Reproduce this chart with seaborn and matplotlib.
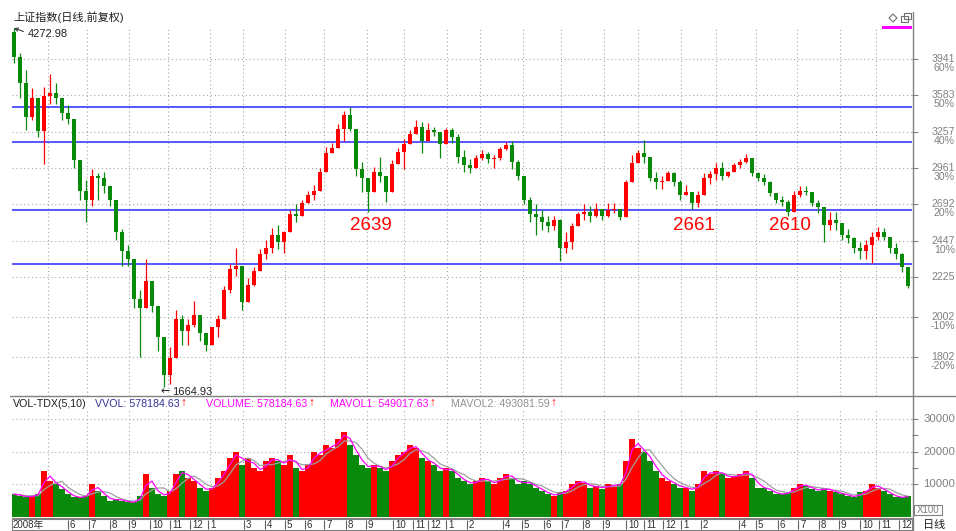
import numpy as np
import pandas as pd
import matplotlib
matplotlib.use("Agg")
import matplotlib.pyplot as plt
import seaborn as sns
from matplotlib.patches import Rectangle, Polygon
from matplotlib.lines import Line2D
from matplotlib.ticker import NullLocator

sns.set_theme(style="white")
plt.rcParams['font.family'] = ['Liberation Sans', 'Noto Sans CJK SC', 'DejaVu Sans']

# ---------------- data (approx. weekly bars) ----------------
first_open = 4230
close = [
    3960, 3700, 3380, 3560, 3260, 3580, 3600, 3560, 3420, 3370,
    3020, 2790, 2720, 2900, 2880, 2820, 2720, 2500, 2380, 2330,
    2100, 2050, 2200, 2060, 1900, 1720, 1800, 1990, 1930, 1960,
    2010, 1920, 1860, 1950, 1990, 2150, 2270, 2290, 2080, 2180,
    2260, 2360, 2400, 2480, 2440, 2500, 2620, 2610, 2700, 2760,
    2790, 2930, 3080, 3120, 3280, 3400, 3280, 2950, 2880, 2780,
    2930, 2900, 2780, 2990, 3090, 3150, 3240, 3300, 3180, 3270,
    3250, 3150, 3270, 3210, 3050, 2980, 2960, 3040, 3070, 3030,
    3040, 3110, 3140, 3010, 2900, 2720, 2620, 2600, 2570, 2540,
    2580, 2400, 2440, 2540, 2620, 2640, 2610, 2660, 2610, 2650,
    2660, 2600, 2850, 3000, 3080, 3050, 2880, 2850, 2860, 2920,
    2850, 2760, 2780, 2700, 2760, 2880, 2910, 2960, 2900, 2930,
    2980, 3010, 3040, 2920, 2880, 2850, 2770, 2720, 2710, 2640,
    2760, 2790, 2780, 2700, 2670, 2550, 2580, 2560, 2480, 2460,
    2400, 2380, 2420, 2470, 2500, 2470, 2400, 2360, 2280, 2170,
]
high = [
    4272.98, 4000, 3830, 3650, 3500, 3660, 3790, 3700, 3560, 3490,
    3230, 2960, 2870, 2950, 2920, 2930, 2820, 2720, 2520, 2420,
    2290, 2150, 2330, 2170, 2060, 1850, 1850, 2040, 2010, 1990,
    2090, 2010, 1900, 1950, 2010, 2170, 2300, 2400, 2250, 2220,
    2280, 2390, 2450, 2530, 2550, 2510, 2650, 2690, 2720, 2790,
    2830, 2960, 3130, 3160, 3320, 3440, 3478, 3260, 3010, 2880,
    2970, 3050, 2890, 3020, 3120, 3190, 3270, 3361, 3340, 3330,
    3300, 3220, 3290, 3290, 3240, 3100, 3030, 3060, 3100, 3090,
    3060, 3130, 3170, 3181, 3020, 2870, 2740, 2690, 2650, 2610,
    2610, 2590, 2500, 2560, 2640, 2690, 2680, 2700, 2650, 2700,
    2700, 2650, 2870, 3060, 3100, 3186, 3030, 2930, 2900, 2940,
    2930, 2870, 2830, 2780, 2790, 2920, 2940, 3000, 3010, 2940,
    3000, 3030, 3067, 3030, 2930, 2910, 2860, 2760, 2750, 2720,
    2790, 2826, 2826, 2780, 2720, 2650, 2640, 2640, 2560, 2520,
    2470, 2440, 2450, 2500, 2536, 2530, 2450, 2430, 2370, 2230,
]
low = [
    3900, 3560, 3270, 3360, 3210, 2990, 3500, 3500, 3360, 3320,
    2960, 2720, 2566, 2680, 2720, 2770, 2680, 2450, 2290, 2290,
    2050, 1802, 2170, 2030, 1830, 1664.93, 1680, 1830, 1860, 1860,
    1950, 1880, 1830, 1860, 1900, 1990, 2130, 2230, 2040, 2110,
    2170, 2265, 2330, 2370, 2390, 2370, 2530, 2570, 2630, 2710,
    2720, 2820, 2940, 3080, 3160, 3180, 3260, 2900, 2780, 2639,
    2820, 2850, 2710, 2860, 3000, 2950, 3170, 3250, 3080, 3190,
    3220, 3040, 3160, 3160, 3000, 2930, 2920, 2960, 3020, 3000,
    2960, 3020, 3100, 2950, 2870, 2690, 2570, 2480, 2515, 2500,
    2515, 2319, 2370, 2390, 2560, 2580, 2570, 2600, 2580, 2600,
    2630, 2580, 2600, 2940, 3000, 3000, 2860, 2800, 2800, 2860,
    2820, 2720, 2770, 2661, 2670, 2800, 2840, 2870, 2870, 2890,
    2930, 2960, 3000, 2900, 2860, 2830, 2750, 2700, 2680, 2610,
    2670, 2740, 2760, 2680, 2630, 2440, 2515, 2515, 2450, 2430,
    2370, 2330, 2330, 2307, 2450, 2450, 2370, 2330, 2250, 2160,
]
volume = [
    7000, 6500, 6000, 6500, 7000, 14000, 11000, 10000, 8500, 7000,
    6000, 6000, 6500, 10000, 8000, 6500, 5000, 5500, 5000, 4500,
    4500, 6500, 13000, 9000, 7000, 6500, 8000, 13000, 14000, 12000,
    11000, 9000, 8000, 9000, 12000, 14000, 18000, 20000, 16000, 18000,
    15000, 14000, 17000, 18000, 17000, 16000, 19000, 15000, 14000, 16000,
    20000, 19000, 22000, 21000, 24000, 26000, 22000, 19000, 16000, 15000,
    16000, 15000, 14000, 17000, 19000, 20000, 22000, 21000, 18000, 17000,
    16000, 14000, 15000, 14000, 12000, 11000, 10000, 11000, 12000, 11000,
    10000, 12000, 13000, 12000, 10000, 11000, 10000, 9000, 8000, 7000,
    6500, 7500, 8000, 10000, 11000, 10500, 9000, 9500, 8500, 10000,
    9500, 10000, 17000, 24000, 21000, 20000, 17000, 14000, 12000, 11000,
    10000, 9000, 9000, 8000, 10000, 14000, 13000, 14000, 13000, 12000,
    12500, 13000, 14000, 12000, 9000, 9000, 8000, 7000, 7000, 7500,
    9000, 10000, 9500, 8500, 8000, 9000, 8000, 7500, 7000, 6500,
    6000, 7500, 8000, 10000, 9000, 8000, 7000, 6000, 6000, 6500,
]
level_lines = [3478, 3166, 2649, 2299]
marked_lows = [2639, 2661, 2610]
price_ticks = [1802, 2002, 2225, 2447, 2692, 2961, 3257, 3583, 3941]
pct_labels = ['-20%', '-10%', '', '10%', '20%', '30%', '40%', '50%', '60%']
vol_ticks = [10000, 20000, 30000]

month_labels = ['2008年', '6', '7', '8', '9', '10', '11', '12', '1', '3', '4', '5', '6', '7', '8',
                '9', '10', '11', '12', '1', '2', '4', '5', '6', '7', '8', '9', '10', '11', '12',
                '1', '2', '4', '5', '6', '7', '8', '9', '10', '11', '12']
month_pos = [-0.5, 9.0, 12.5, 16.0, 19.17, 22.67, 26.0, 29.33, 32.33, 38.33, 41.83, 45.17, 48.5,
             51.67, 55.33, 58.67, 63.17, 66.5, 69.0, 72.0, 75.5, 81.5, 84.67, 88.33, 91.33, 94.83,
             98.17, 102.0, 105.0, 108.17, 111.17, 114.5, 120.83, 123.67, 127.33, 130.67, 134.17,
             137.5, 141.0, 144.17, 147.5]
grid_pos = [5.67, 12.17, 19.17, 25.67, 32.67, 38.17, 45.17, 51.67, 58.83, 65.0, 72.17, 77.67,
            84.83, 91.17, 98.33, 104.0, 111.17, 117.0, 123.67, 130.5, 137.67, 143.67]

header = [('VOL-TDX(5,10)', '#202020', False), ('VVOL: 578184.63', '#333399', True),
          ('VOLUME: 578184.63', '#FF00FF', True), ('MAVOL1: 549017.63', '#FF00FF', True),
          ('MAVOL2: 493081.59', '#909090', True)]
header_x = [13, 95, 206, 330, 451]

# ---------------- styling constants ----------------
RED = '#FF0000'
GREEN = '#0A8A0A'
GRID = '#A8A8A8'
AXIS = '#808080'
W, H = 956, 531


def fbox(x0, y0, x1, y1):
    return [x0 / W, 1 - y1 / H, (x1 - x0) / W, (y1 - y0) / H]


def fp(x, y):
    return (x / W, 1 - y / H)


fig = plt.figure(figsize=(W / 100, H / 100), dpi=100)
fig.patch.set_facecolor('white')

ax = fig.add_axes(fbox(12, 20, 912, 396))
axv = fig.add_axes(fbox(12, 397, 912, 517))
axd = fig.add_axes(fbox(12, 519, 912, 530))

n = len(close)
idx = np.arange(n)
c = np.array(close, dtype=float)
o = np.array([first_open] + close[:-1], dtype=float)
raw_low = np.array(low, dtype=float)
h = np.maximum(np.array(high, dtype=float), np.maximum(o, c))
l = np.minimum(raw_low, np.minimum(o, c))
up = c >= o
cols = np.where(up, RED, GREEN)
xlim = (-0.333, 149.667)

# ---------------- price panel ----------------
ax.set_yscale('log')
for v in price_ticks:
    ax.axhline(v, color=GRID, lw=0.8, ls=(0, (1, 2.5)), zorder=0)
for g in grid_pos:
    ax.axvline(g, ymax=(396 - 28) / 376, color=GRID, lw=0.8, ls=(0, (1, 2.5)), zorder=0)
for v in level_lines:
    ax.axhline(v, color='#2828FF', lw=1.1, zorder=1)

ax.vlines(idx, l, h, colors=cols, lw=0.9, zorder=2)
ax.bar(idx, np.abs(c - o), bottom=np.minimum(o, c), width=0.55, color=cols, linewidth=0, zorder=3)

ax.set_ylim(1627, 4365)
ax.set_xlim(*xlim)
ax.yaxis.set_minor_locator(NullLocator())
ax.set_yticks(price_ticks)
ax.set_yticklabels([])
ax.set_xticks([])
ax.tick_params(axis='y', which='major', left=False, right=True, length=4, width=0.8,
               color=AXIS, direction='out')
for s in ax.spines.values():
    s.set_visible(False)
ax.set_facecolor('white')

for v, p in zip(price_ticks, pct_labels):
    ax.annotate(str(v), xy=(1, v), xycoords=('axes fraction', 'data'), xytext=(43, 0),
                textcoords='offset pixels', ha='right', va='center', fontsize=7.6, color=AXIS)
    if p:
        ax.annotate(p, xy=(1, v), xycoords=('axes fraction', 'data'), xytext=(43, -9),
                    textcoords='offset pixels', ha='right', va='center', fontsize=7.6, color=AXIS)

hi_i = int(np.argmax(h))
lo_i = int(np.argmin(l))
ax.annotate(f'{h[hi_i]:.2f}', xy=(hi_i, h[hi_i]), xytext=(14, -6), textcoords='offset pixels',
            ha='left', va='center', fontsize=8, color='#222222',
            arrowprops=dict(arrowstyle='->', color='#222222', lw=0.7, shrinkA=1, shrinkB=0,
                            relpos=(0, 0.6), mutation_scale=6))
ax.annotate('←', xy=(lo_i, l[lo_i]), xytext=(-3, -4), textcoords='offset pixels',
            ha='left', va='center', fontsize=8, color='#222222', annotation_clip=False,
            family=['DejaVu Sans'])
ax.annotate(f'{l[lo_i]:.2f}', xy=(lo_i, l[lo_i]), xytext=(8, -5), textcoords='offset pixels',
            ha='left', va='center', fontsize=8, color='#222222', annotation_clip=False)

for v in marked_lows:
    i = int(np.argmin(np.abs(raw_low - v)))
    ax.text(i + 0.4, 2542, str(v), ha='center', va='center', fontsize=13.5, color=RED)

# ---------------- volume panel ----------------
vol = pd.Series(volume, dtype=float)
df = pd.DataFrame({'idx': idx, 'vol': vol,
                   'ma1': vol.rolling(2, min_periods=1).mean(),
                   'ma2': vol.rolling(4, min_periods=1).mean()})
for v in vol_ticks:
    axv.axhline(v, color=GRID, lw=0.8, ls=(0, (1, 2.5)), zorder=0)
for g in grid_pos:
    axv.axvline(g, ymax=(517 - 410) / 120, color=GRID, lw=0.8, ls=(0, (1, 2.5)), zorder=0)
axv.bar(idx, df['vol'], width=0.86, color=cols, linewidth=0, zorder=2)
sns.lineplot(data=df, x='idx', y='ma2', ax=axv, color='#A0A0A0', lw=0.9, zorder=3)
sns.lineplot(data=df, x='idx', y='ma1', ax=axv, color='#FF00FF', lw=0.9, zorder=4)
axv.set_xlim(*xlim)
axv.set_ylim(0, 36700)
axv.set_xlabel('')
axv.set_ylabel('')
axv.set_xticks([])
axv.set_yticks(vol_ticks + [15000, 25000])
axv.set_yticklabels([])
axv.tick_params(axis='y', left=False, right=True, length=4, width=0.8, color=AXIS, direction='out')
for s in axv.spines.values():
    s.set_visible(False)
axv.set_facecolor('white')
for v in vol_ticks:
    axv.annotate(str(v), xy=(1, v), xycoords=('axes fraction', 'data'), xytext=(43, 0),
                 textcoords='offset pixels', ha='right', va='center', fontsize=8.2, color=AXIS)

# ---------------- date row ----------------
axd.set_xlim(*xlim)
axd.set_ylim(0, 1)
axd.set_xticks([])
axd.set_yticks([])
for s in axd.spines.values():
    s.set_color(AXIS)
    s.set_linewidth(0.8)
for p, lab in zip(month_pos, month_labels):
    axd.text(p + 0.33, 0.45, lab, ha='left', va='center', fontsize=7, color='#303030')
    axd.vlines(p, 0.1, 0.95, color='#606060', lw=0.8)

# ---------------- frame, texts, icons ----------------
fig.add_artist(Line2D([10 / W, 1], [1 - 396 / H] * 2, color=AXIS, lw=1))
fig.add_artist(Line2D([912.5 / W] * 2, [1 - 12 / H, 0], color=AXIS, lw=1))
fig.add_artist(Line2D([12 / W, 912 / W], [1 - 518 / H] * 2, color=AXIS, lw=0.8))

fig.text(*fp(13, 17), '上证指数(日线,前复权)', fontsize=8, color='#202020', va='center', ha='left')

renderer = fig.canvas.get_renderer()
for x, (t, colr, arrow) in zip(header_x, header):
    txt = fig.text(*fp(x, 404), t, fontsize=7.7, color=colr, va='center', ha='left')
    if arrow:
        bb = txt.get_window_extent(renderer)
        fig.text(*fp(bb.x1 + 1, 403), '↑', fontsize=8.5, color=RED, va='center', ha='left',
                 fontweight='bold')

fig.add_artist(Rectangle(fp(914, 515), 28 / W, 10 / H, transform=fig.transFigure,
                         fill=False, edgecolor=AXIS, lw=0.8))
fig.text(*fp(928, 510), 'X100', fontsize=7, color=AXIS, ha='center', va='center')
fig.text(*fp(923, 525), '日线', fontsize=8, color='#202020', ha='left', va='center')

fig.add_artist(Rectangle(fp(882, 29), 30 / W, 3 / H, transform=fig.transFigure,
                         color='#FF00FF', lw=0))
dx, dy = 893, 18
fig.add_artist(Polygon([fp(dx - 4, dy), fp(dx, dy - 4), fp(dx + 4, dy), fp(dx, dy + 4)],
                       closed=True, fill=False, edgecolor='#707070', lw=0.8,
                       transform=fig.transFigure))
fig.add_artist(Rectangle(fp(901, 22), 7 / W, 6 / H, transform=fig.transFigure,
                         fill=False, edgecolor='#707070', lw=0.8))
fig.add_artist(Rectangle(fp(904, 19), 7 / W, 6 / H, transform=fig.transFigure,
                         fill=False, edgecolor='#707070', lw=0.8))

fig.savefig('out.png', dpi=100, facecolor='white')
